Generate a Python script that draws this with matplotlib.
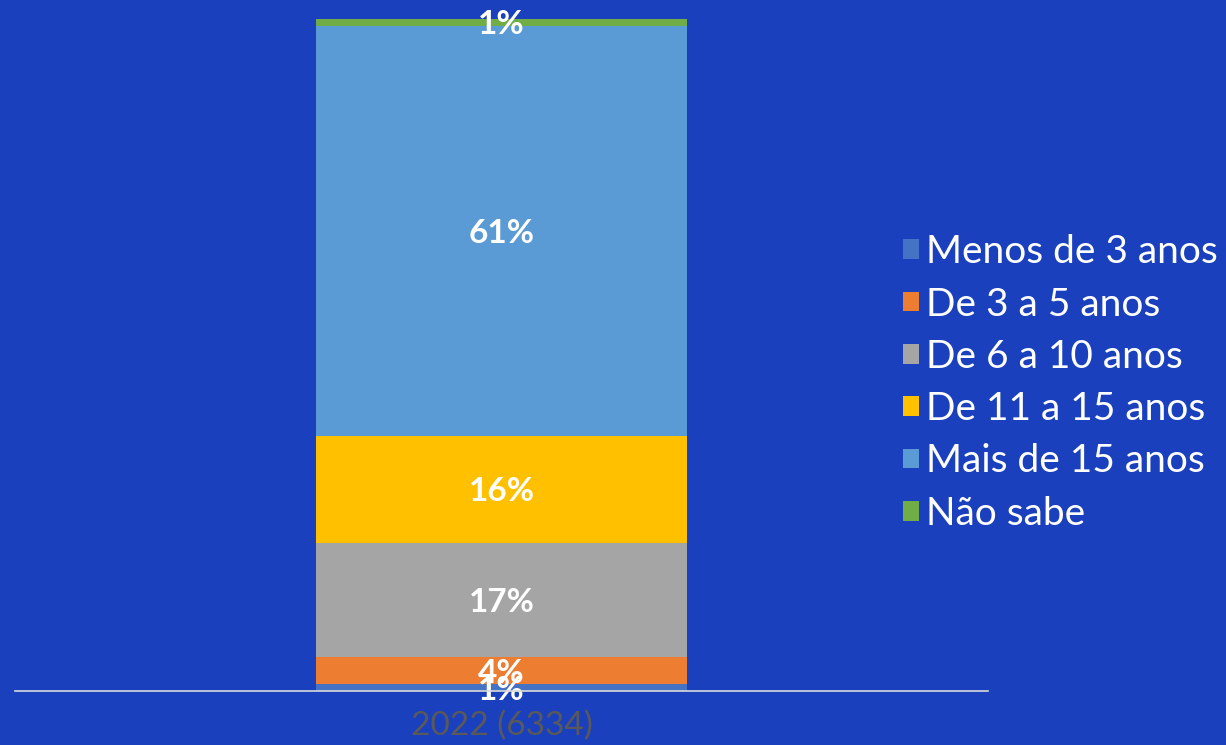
import matplotlib
matplotlib.use("Agg")
import matplotlib.pyplot as plt
from matplotlib.patches import Patch

# Share of respondents by time in activity, survey 2022
category = "2022 (6334)"
series = ["Menos de 3 anos", "De 3 a 5 anos", "De 6 a 10 anos",
          "De 11 a 15 anos", "Mais de 15 anos", "Não sabe"]
values = [1, 4, 17, 16, 61, 1]
colors = ["#4472C4", "#ED7D31", "#A5A5A5", "#FFC000", "#5B9BD5", "#70AD47"]

bg = "#1B40BE"
plt.rcParams["font.family"] = ["Lato", "DejaVu Sans"]

fig = plt.figure(figsize=(12.26, 7.45), dpi=100, facecolor=bg)
W, H = 1226, 745
ax = fig.add_axes([15 / W, (H - 691) / H, (988 - 15) / W, (691 - 19) / H])
ax.set_facecolor(bg)

bar_w = 1.0
half = 0.5 * bar_w * 973 / 371
bottom = 0
for name, v, c in zip(series, values, colors):
    ax.bar(0, v, width=bar_w, bottom=bottom, color=c, label=name, zorder=2)
    ax.text(0, bottom + v / 2, f"{v}%", ha="center", va="center_baseline",
            color="white", fontsize=24, fontweight="bold", zorder=3)
    bottom += v

ax.set_xlim(-half, half)
ax.set_ylim(0, 100)
ax.set_xticks([0])
ax.set_xticklabels([category], color="#595959", fontsize=24)
ax.tick_params(axis="x", length=0, pad=14)
ax.set_yticks([])
for s in ["top", "right", "left"]:
    ax.spines[s].set_visible(False)
ax.spines["bottom"].set_color("#D9D9D9")
ax.spines["bottom"].set_linewidth(1.2)
ax.spines["bottom"].set_zorder(4)

handles = [Patch(facecolor=c, edgecolor="none") for c in colors]
leg = fig.legend(handles, series, loc="center left",
                 bbox_to_anchor=(903 / W, 1 - 383 / H), frameon=False,
                 fontsize=28, labelcolor="white",
                 handlelength=0.4, handleheight=0.4, handletextpad=0.2,
                 labelspacing=0.42, borderpad=0, borderaxespad=0)

fig.savefig("out.png", dpi=100, facecolor=bg)
